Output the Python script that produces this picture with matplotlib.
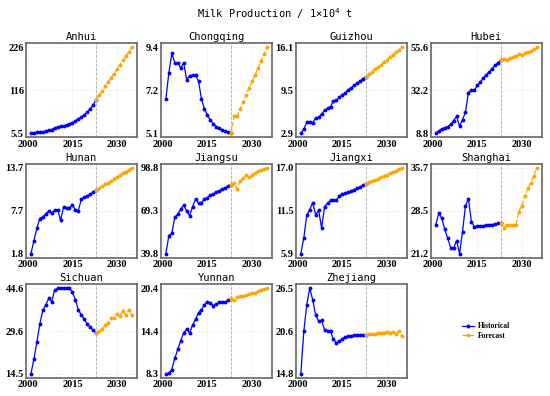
import matplotlib
matplotlib.use('Agg')
import matplotlib.pyplot as plt
import numpy as np

# years
hist_years = list(range(2001, 2024))
fore_years = list(range(2023, 2036))   # forecast starts from the last historical year

provinces = ['Anhui', 'Chongqing', 'Guizhou', 'Hubei', 'Hunan', 'Jiangsu',
             'Jiangxi', 'Shanghai', 'Sichuan', 'Yunnan', 'Zhejiang']

# historical values 2001-2023 (1x10^4 t)
anhui_hist = [5.5, 6.5, 7.5, 8.5, 9.5, 10.5, 14, 15, 19, 21, 23, 24, 27, 30, 33,
              37, 42, 47, 53, 60, 68, 79, 92]
chongqing_hist = [6.81, 8.12, 9.1, 8.64, 8.64, 8.36, 8.64, 7.79, 7.99, 8.0, 8.0, 7.71,
                  6.81, 6.32, 6.0, 5.75, 5.56, 5.43, 5.34, 5.26, 5.19, 5.14, 5.1]
guizhou_hist = [2.9, 3.5, 4.6, 4.7, 4.5, 5.25, 5.35, 5.85, 6.4, 6.75, 7.0, 7.85, 7.95,
                8.4, 8.75, 9.15, 9.55, 9.9, 10.25, 10.6, 10.95, 11.3, 11.6]
hubei_hist = [8.8, 10.1, 11.1, 11.8, 12.4, 13.6, 15.7, 18.0, 12.5, 16.2, 20.3, 31.0,
              32.2, 32.2, 34.9, 36.7, 38.8, 40.7, 42.3, 44.1, 45.9, 47.3, 48.5]
hunan_hist = [1.78, 3.5, 5.3, 6.65, 6.9, 7.3, 7.7, 7.4, 7.8, 7.9, 6.4, 8.25, 8.1, 8.15,
              8.5, 7.9, 7.75, 9.35, 9.6, 9.8, 10.05, 10.3, 10.6]
jiangsu_hist = [39.8, 52.1, 53.6, 64.7, 66.9, 70.3, 73.2, 69.2, 65.8, 72.1, 77.2, 74.3,
                74.9, 77.2, 78.3, 79.8, 80.8, 82.0, 83.1, 84.0, 85.2, 86.3, 87.2]
jiangxi_hist = [5.9, 7.9, 10.9, 11.6, 12.5, 10.9, 11.5, 9.2, 12.0, 12.4, 12.8, 12.9,
                12.8, 13.4, 13.6, 13.7, 13.9, 14.0, 14.2, 14.4, 14.5, 14.8, 14.95]
shanghai_hist = [26.1, 28.0, 27.2, 25.3, 23.8, 22.2, 22.1, 23.4, 21.2, 24.9, 29.3, 30.4,
                 26.6, 25.7, 25.8, 25.8, 25.9, 26.0, 26.1, 26.1, 26.2, 26.3, 26.35]
sichuan_hist = [14.5, 19.6, 25.6, 32.0, 36.8, 38.7, 41.0, 39.9, 43.9, 44.5, 44.5, 44.6,
                44.6, 44.6, 43.1, 40.6, 36.8, 35.3, 33.6, 32.0, 30.9, 29.8, 28.9]
yunnan_hist = [8.3, 8.4, 8.9, 10.5, 11.75, 13.0, 14.1, 14.6, 14.1, 15.2, 16.0, 16.95,
               17.4, 18.05, 18.5, 18.3, 17.95, 18.2, 18.4, 18.4, 18.4, 18.7, 18.9]
zhejiang_hist = [14.8, 20.6, 24.25, 26.5, 24.9, 22.8, 22.0, 22.1, 20.8, 20.7, 20.6, 19.5,
                 19.05, 19.25, 19.6, 19.8, 19.95, 20.0, 20.05, 20.1, 20.1, 20.15, 20.15]

# forecast values 2024-2035
anhui_fore = [103, 114, 126, 137, 148, 159, 170, 182, 193, 204, 215, 226]
chongqing_fore = [5.98, 5.98, 6.3, 6.65, 7.0, 7.35, 7.7, 8.0, 8.35, 8.7, 9.05, 9.4]
guizhou_fore = [11.98, 12.35, 12.72, 13.1, 13.47, 13.85, 14.22, 14.6, 14.97, 15.35,
                15.72, 16.1]
hubei_fore = [49.4, 48.7, 50.0, 50.5, 51.2, 51.8, 51.4, 52.8, 53.3, 53.9, 54.6, 55.6]
hunan_fore = [10.86, 11.12, 11.38, 11.63, 11.89, 12.15, 12.41, 12.67, 12.92, 13.18,
              13.44, 13.7]
jiangsu_fore = [88.5, 84.5, 90.0, 91.5, 93.7, 92.2, 93.7, 95.0, 96.3, 97.2, 98.0, 98.8]
jiangxi_fore = [15.12, 15.29, 15.46, 15.63, 15.8, 15.97, 16.14, 16.32, 16.49, 16.66,
                16.83, 17.02]
shanghai_fore = [25.5, 26.1, 26.1, 26.1, 26.1, 28.3, 29.3, 30.9, 32.2, 33.2, 34.3, 35.7]
sichuan_fore = [29.6, 30.3, 31.7, 32.5, 34.0, 34.2, 35.7, 34.9, 36.6, 35.3, 37.1, 35.1]
yunnan_fore = [18.7, 19.1, 19.25, 19.35, 19.45, 19.55, 19.7, 19.8, 19.95, 20.1, 20.25, 20.42]
zhejiang_fore = [20.2, 20.25, 20.3, 20.35, 20.4, 20.35, 20.5, 20.35, 20.55, 20.25, 20.7,
                 19.95]

hist_data = [anhui_hist, chongqing_hist, guizhou_hist, hubei_hist, hunan_hist,
             jiangsu_hist, jiangxi_hist, shanghai_hist, sichuan_hist, yunnan_hist,
             zhejiang_hist]
fore_data = [anhui_fore, chongqing_fore, guizhou_fore, hubei_fore, hunan_fore,
             jiangsu_fore, jiangxi_fore, shanghai_fore, sichuan_fore, yunnan_fore,
             zhejiang_fore]

mono = 'DejaVu Sans Mono'
tick_font = {'family': 'Liberation Serif', 'weight': 'bold', 'size': 7.5}


def fmt(v):
    if abs(v) >= 100:
        return f'{v:.0f}'
    return f'{v:.1f}'


fig, axes = plt.subplots(3, 4, figsize=(5.5, 3.96), dpi=100)
fig.subplots_adjust(left=0.047, right=0.985, top=0.891, bottom=0.045,
                    wspace=0.216, hspace=0.276)

for i, ax in enumerate(axes.flat):
    if i >= len(provinces):
        ax.axis('off')
        continue
    h = hist_data[i]
    f = [h[-1]] + fore_data[i]
    ax.plot(hist_years, h, color='blue', marker='o', markersize=1.8,
            linewidth=0.9, label='Historical')
    ax.plot(fore_years, f, color='orange', marker='o', markersize=1.8,
            linewidth=0.9, linestyle='--', label='Forecast')
    ax.axvline(2023, color='#aaaaaa', linestyle='--', linewidth=0.6)

    vals = h + f
    lo, hi = min(vals), max(vals)
    mid = (lo + hi) / 2
    ax.set_yticks([lo, mid, hi])
    ax.set_yticklabels([fmt(lo), fmt(mid), fmt(hi)], fontdict=tick_font)
    ax.set_xticks([2000, 2015, 2030])
    ax.set_xticklabels(['2000', '2015', '2030'], fontdict=tick_font)
    ax.tick_params(length=0, pad=1.5)
    ax.grid(True, color='#cccccc', linestyle=':', linewidth=0.5, alpha=0.7)
    ax.set_title(provinces[i], family=mono, fontsize=7.5, pad=2)
    for s in ax.spines.values():
        s.set_color('#666666')
        s.set_linewidth(1.2)

handles, labels = axes.flat[0].get_legend_handles_labels()
axes.flat[11].legend(handles, labels, loc='center', frameon=False,
                     prop={'family': 'Liberation Serif', 'weight': 'bold', 'size': 5.5},
                     handlelength=1.5, handletextpad=0.5, labelspacing=0.2)

fig.suptitle('Milk Production / 1×10$^4$ t', family=mono, fontsize=7.5, y=0.985)

fig.savefig('out.png', dpi=100)
